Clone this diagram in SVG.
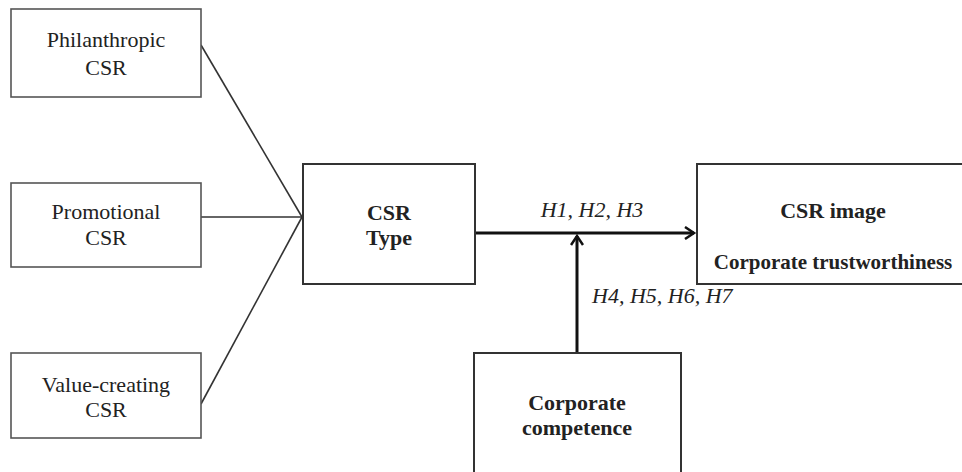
<svg xmlns="http://www.w3.org/2000/svg" width="962" height="472" viewBox="0 0 962 472">
<style>
.box{fill:#fff;stroke:#555;stroke-width:1.6}
.bbox{fill:#fff;stroke:#333;stroke-width:2}
.t{font-family:"Liberation Serif","Times New Roman",serif;font-size:22px;fill:#222;text-anchor:middle}
.b{font-weight:bold}
.i{font-style:italic}
.thin{stroke:#333;stroke-width:1.6;fill:none}
.thick{stroke:#111;stroke-width:3;fill:none}
</style>
<defs>
<marker id="arr" markerWidth="14" markerHeight="14" refX="11" refY="7" orient="auto" markerUnits="userSpaceOnUse">
<path d="M2,1 L11,7 L2,13" fill="none" stroke="#111" stroke-width="2.5"/>
</marker>
</defs>
<rect width="962" height="472" fill="#fff"/>
<g id="connectors">
<line class="thin" x1="201" y1="45" x2="302" y2="217"/>
<line class="thin" x1="201" y1="217" x2="303" y2="217"/>
<line class="thin" x1="201" y1="404" x2="302" y2="217"/>
<line class="thick" x1="475" y1="233" x2="694" y2="233" marker-end="url(#arr)"/>
<line class="thick" x1="577" y1="353" x2="577" y2="236" marker-end="url(#arr)"/>
<text class="t i" x="592" y="217">H1, H2, H3</text>
<text class="t i" x="592" y="303" style="text-anchor:start">H4, H5, H6, H7</text>
</g>
<g id="philanthropic">
<rect class="box" x="11" y="9" width="190" height="88"/>
<text class="t" x="106" y="47">Philanthropic</text>
<text class="t" x="106" y="75">CSR</text>
</g>
<g id="promotional">
<rect class="box" x="11" y="183" width="190" height="84"/>
<text class="t" x="106" y="219">Promotional</text>
<text class="t" x="106" y="245">CSR</text>
</g>
<g id="value-creating">
<rect class="box" x="11" y="353" width="190" height="85"/>
<text class="t" x="106" y="392">Value-creating</text>
<text class="t" x="106" y="417">CSR</text>
</g>
<g id="csr-type">
<rect class="bbox" x="303" y="164" width="172" height="120"/>
<text class="t b" x="389" y="220">CSR</text>
<text class="t b" x="389" y="245">Type</text>
</g>
<g id="csr-image">
<rect class="bbox" x="697" y="164" width="280" height="120"/>
<text class="t b" x="833" y="218">CSR image</text>
<text class="t b" x="833" y="269" style="font-size:21px">Corporate trustworthiness</text>
</g>
<g id="corporate-competence">
<rect class="bbox" x="474" y="353" width="207" height="130"/>
<text class="t b" x="577" y="410">Corporate</text>
<text class="t b" x="577" y="435">competence</text>
</g>
</svg>
